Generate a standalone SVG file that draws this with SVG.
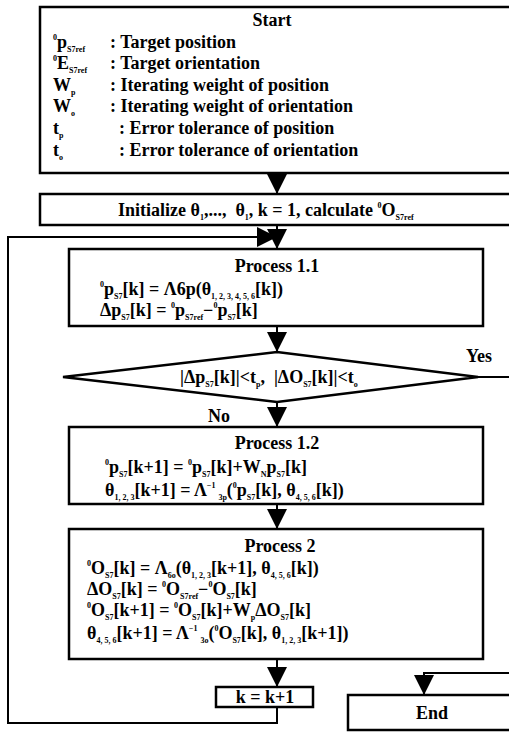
<svg xmlns="http://www.w3.org/2000/svg" width="509" height="732" viewBox="0 0 509 732">
<style>
.box{fill:#fff;stroke:#000;stroke-width:2.5}
.t{font-family:"Liberation Serif","Times New Roman",serif;font-size:18px;font-weight:bold;fill:#000;white-space:pre}
.s{font-size:8px}
.c{text-anchor:middle}
.ln{fill:none;stroke:#000;stroke-width:2}
</style>
<defs>
<marker id="ah" viewBox="0 0 20 20" markerWidth="20" markerHeight="20" refX="20" refY="10" orient="auto" markerUnits="userSpaceOnUse">
<path d="M0,0 L20,10 L0,20 z" fill="#000"/>
</marker>
</defs>
<rect width="509" height="732" fill="#fff"/>
<g id="connectors">
<path class="ln" d="M277,174 V194" marker-end="url(#ah)"/>
<path class="ln" d="M277,225 V249" marker-end="url(#ah)"/>
<path class="ln" d="M277,707 V723 H8 V237 H277" marker-end="url(#ah)"/>
<path class="ln" d="M277,326 V352" marker-end="url(#ah)"/>
<path class="ln" d="M277,402 V427" marker-end="url(#ah)"/>
<path class="ln" d="M277,504 V529" marker-end="url(#ah)"/>
<path class="ln" d="M277,659 V687" marker-end="url(#ah)"/>
<path class="ln" d="M478,377 H520 V673 H424 V695" marker-end="url(#ah)"/>
<text class="t" x="466" y="362">Yes</text>
<text class="t" x="208" y="422">No</text>
</g>
<g id="start">
<rect class="box" x="40" y="7" width="480" height="166"/>
<text class="t c" x="272" y="26">Start</text>
<text class="t" x="53" y="48"><tspan class="s" dy="-8">0</tspan><tspan dy="8">p</tspan><tspan class="s" dy="4">S7ref</tspan></text>
<text class="t" x="110" y="48">: Target position</text>
<text class="t" x="53" y="69"><tspan class="s" dy="-8">0</tspan><tspan dy="8">E</tspan><tspan class="s" dy="4">S7ref</tspan></text>
<text class="t" x="110" y="69">: Target orientation</text>
<text class="t" x="53" y="91">W<tspan class="s" dy="4">p</tspan></text>
<text class="t" x="110" y="91">: Iterating weight of position</text>
<text class="t" x="53" y="112">W<tspan class="s" dy="4">o</tspan></text>
<text class="t" x="110" y="112">: Iterating weight of orientation</text>
<text class="t" x="53" y="134">t<tspan class="s" dy="4">p</tspan></text>
<text class="t" x="119" y="134">: Error tolerance of position</text>
<text class="t" x="53" y="156">t<tspan class="s" dy="4">o</tspan></text>
<text class="t" x="119" y="156">: Error tolerance of orientation</text>
</g>
<g id="init">
<rect class="box" x="40" y="194" width="480" height="31"/>
<text class="t" x="118" y="216">Initialize θ<tspan class="s" dy="4">1</tspan><tspan dy="-4">,...,  θ</tspan><tspan class="s" dy="4">1</tspan><tspan dy="-4">, k = 1, calculate </tspan><tspan class="s" dy="-8">0</tspan><tspan dy="8">O</tspan><tspan class="s" dy="4">S7ref</tspan></text>
</g>
<g id="process11">
<rect class="box" x="69" y="249" width="414" height="77"/>
<text class="t c" x="277" y="272">Process 1.1</text>
<text class="t" x="100" y="295"><tspan class="s" dy="-8">0</tspan><tspan dy="8">p</tspan><tspan class="s" dy="4">S7</tspan><tspan dy="-4">[k] = Λ6p(θ</tspan><tspan class="s" dy="4">1, 2, 3, 4, 5, 6</tspan><tspan dy="-4">[k])</tspan></text>
<text class="t" x="100" y="316">Δp<tspan class="s" dy="4">S7</tspan><tspan dy="-4">[k] = </tspan><tspan class="s" dy="-8">0</tspan><tspan dy="8">p</tspan><tspan class="s" dy="4">S7ref</tspan><tspan dy="-4">−</tspan><tspan class="s" dy="-8">0</tspan><tspan dy="8">p</tspan><tspan class="s" dy="4">S7</tspan><tspan dy="-4">[k]</tspan></text>
</g>
<g id="decision">
<polygon class="box" points="63,377 277,352 478,377 277,402"/>
<text class="t" x="180" y="383">|Δp<tspan class="s" dy="4">S7</tspan><tspan dy="-4">[k]|&lt;t</tspan><tspan class="s" dy="4">p</tspan><tspan dy="-4">,  |ΔO</tspan><tspan class="s" dy="4">S7</tspan><tspan dy="-4">[k]|&lt;t</tspan><tspan class="s" dy="4">o</tspan></text>
</g>
<g id="process12">
<rect class="box" x="69" y="427" width="414" height="77"/>
<text class="t c" x="277" y="449">Process 1.2</text>
<text class="t" x="105" y="473"><tspan class="s" dy="-8">0</tspan><tspan dy="8">p</tspan><tspan class="s" dy="4">S7</tspan><tspan dy="-4">[k+1] = </tspan><tspan class="s" dy="-8">0</tspan><tspan dy="8">p</tspan><tspan class="s" dy="4">S7</tspan><tspan dy="-4">[k]+W</tspan><tspan class="s" dy="4">N</tspan><tspan dy="-4">p</tspan><tspan class="s" dy="4">S7</tspan><tspan dy="-4">[k]</tspan></text>
<text class="t" x="105" y="496">θ<tspan class="s" dy="4">1, 2, 3</tspan><tspan dy="-4">[k+1] = Λ</tspan><tspan class="s" dy="-8">−1</tspan><tspan class="s" dy="12" dx="3">3p</tspan><tspan dy="-4">(</tspan><tspan class="s" dy="-8">0</tspan><tspan dy="8">p</tspan><tspan class="s" dy="4">S7</tspan><tspan dy="-4">[k], θ</tspan><tspan class="s" dy="4">4, 5, 6</tspan><tspan dy="-4">[k])</tspan></text>
</g>
<g id="process2">
<rect class="box" x="69" y="529" width="414" height="130"/>
<text class="t c" x="280" y="552">Process 2</text>
<text class="t" x="87" y="574"><tspan class="s" dy="-8">0</tspan><tspan dy="8">O</tspan><tspan class="s" dy="4">S7</tspan><tspan dy="-4">[k] = Λ</tspan><tspan class="s" dy="4">6o</tspan><tspan dy="-4">(θ</tspan><tspan class="s" dy="4">1, 2, 3</tspan><tspan dy="-4">[k+1], θ</tspan><tspan class="s" dy="4">4, 5, 6</tspan><tspan dy="-4">[k])</tspan></text>
<text class="t" x="87" y="595">ΔO<tspan class="s" dy="4">S7</tspan><tspan dy="-4">[k] = </tspan><tspan class="s" dy="-8">0</tspan><tspan dy="8">O</tspan><tspan class="s" dy="4">S7ref</tspan><tspan dy="-4">−</tspan><tspan class="s" dy="-8">0</tspan><tspan dy="8">O</tspan><tspan class="s" dy="4">S7</tspan><tspan dy="-4">[k]</tspan></text>
<text class="t" x="87" y="616"><tspan class="s" dy="-8">0</tspan><tspan dy="8">O</tspan><tspan class="s" dy="4">S7</tspan><tspan dy="-4">[k+1] = </tspan><tspan class="s" dy="-8">0</tspan><tspan dy="8">O</tspan><tspan class="s" dy="4">S7</tspan><tspan dy="-4">[k]+W</tspan><tspan class="s" dy="4">p</tspan><tspan dy="-4">ΔO</tspan><tspan class="s" dy="4">S7</tspan><tspan dy="-4">[k]</tspan></text>
<text class="t" x="87" y="639">θ<tspan class="s" dy="4">4, 5, 6</tspan><tspan dy="-4">[k+1] = Λ</tspan><tspan class="s" dy="-8">−1</tspan><tspan class="s" dy="12" dx="3">3o</tspan><tspan dy="-4">(</tspan><tspan class="s" dy="-8">0</tspan><tspan dy="8">O</tspan><tspan class="s" dy="4">S7</tspan><tspan dy="-4">[k], θ</tspan><tspan class="s" dy="4">1, 2, 3</tspan><tspan dy="-4">[k+1])</tspan></text>
</g>
<g id="increment">
<rect class="box" x="216" y="687" width="97" height="20"/>
<text class="t c" x="265" y="703">k = k+1</text>
</g>
<g id="end">
<rect class="box" x="348" y="695" width="175" height="35"/>
<text class="t c" x="432" y="719">End</text>
</g>
</svg>
